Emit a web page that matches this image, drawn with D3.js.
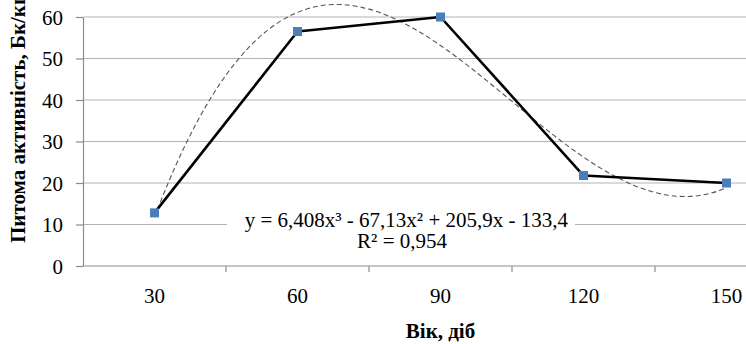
<!DOCTYPE html>
<html><head><meta charset="utf-8">
<script src="https://cdn.jsdelivr.net/npm/d3@7"></script>
<style>html,body{margin:0;padding:0;background:#fff;overflow:hidden}svg{display:block}
svg text{font-family:"Liberation Serif","Times New Roman",Times,serif !important;}</style>
</head><body>
<svg id="c" width="746" height="344"></svg>
<script>
const categories = ["30","60","90","120","150"];
const values = [12.8, 56.5, 60, 21.8, 20];
const yTicks = [0,10,20,30,40,50,60];
const trendCoef = [6.408, -67.13, 205.9, -133.4]; // x^3, x^2, x, const
const eqLine1 = "y = 6,408x³ - 67,13x² + 205,9x - 133,4";
const eqLine2 = "R² = 0,954";
const xTitle = "Вік, діб";
const yTitle = "Питома активність, Бк/кг";

const svg = d3.select("#c");
const fs = 21;
const pLeft = 83, pRight = 798, pTop = 17, pBottom = 266;
const x = d3.scaleBand().domain(categories).range([pLeft, pRight]);
const y = d3.scaleLinear().domain([0, 60]).range([pBottom, pTop]);
const xc = d => x(d) + x.bandwidth()/2;
const xi = i => pLeft + (i - 0.5) * x.bandwidth();

// gridlines
svg.append("g").selectAll("line").data(yTicks.filter(d=>d>0)).join("line")
  .attr("x1", pLeft).attr("x2", 746).attr("y1", d=>y(d)).attr("y2", d=>y(d))
  .attr("stroke", "#b3b3b3").attr("stroke-width", 1.2);

// y axis
const ya = svg.append("g").attr("transform", `translate(${pLeft},0)`)
  .call(d3.axisLeft(y).tickValues(yTicks).tickSize(7).tickSizeOuter(0));
ya.select(".domain").attr("stroke", "#8c8c8c").attr("stroke-width", 1.2);
ya.selectAll(".tick line").attr("stroke", "#8c8c8c").attr("stroke-width", 1.2);
ya.selectAll("text").attr("font-size", fs).attr("fill", "#000").attr("x", -20).attr("dy", "0.34em");

// x axis
const xa = svg.append("g").attr("transform", `translate(0,${pBottom})`)
  .call(d3.axisBottom(x).tickSize(0).tickSizeOuter(0));
xa.select(".domain").remove();
xa.append("line").attr("x1", pLeft).attr("x2", 746).attr("stroke", "#8c8c8c").attr("stroke-width", 1.2);
xa.selectAll(".tick text").attr("font-size", fs).attr("fill", "#000").attr("y", 37).attr("dy", 0);
svg.append("g").selectAll("line").data(categories.slice(1)).join("line")
  .attr("x1", d=>x(d)).attr("x2", d=>x(d)).attr("y1", pBottom).attr("y2", pBottom+6)
  .attr("stroke", "#8c8c8c").attr("stroke-width", 1.2);

// trendline
const poly = t => trendCoef[0]*t*t*t + trendCoef[1]*t*t + trendCoef[2]*t + trendCoef[3];
const ts = d3.range(1, 5.0001, 0.05);
svg.append("path").datum(ts)
  .attr("d", d3.line().x(t=>xi(t)).y(t=>y(poly(t))).curve(d3.curveBasis))
  .attr("fill", "none").attr("stroke", "#555").attr("stroke-width", 1.1).attr("stroke-dasharray", "5,3");

// data line
svg.append("path").datum(values)
  .attr("d", d3.line().x((d,i)=>xc(categories[i])).y(d=>y(d)))
  .attr("fill", "none").attr("stroke", "#000").attr("stroke-width", 2.6).attr("stroke-linejoin", "round");

svg.append("g").selectAll("rect").data(values).join("rect")
  .attr("x", (d,i)=>xc(categories[i])-4.5).attr("y", d=>y(d)-4.5)
  .attr("width", 9).attr("height", 9).attr("fill", "#4a7ebb");

// equation label
svg.append("rect").attr("x", 227).attr("y", 206).attr("width", 348).attr("height", 50).attr("fill", "#fff");
svg.append("text").attr("x", 568).attr("y", 227).attr("text-anchor", "end")
  .attr("font-size", fs).text(eqLine1);
svg.append("text").attr("x", 447).attr("y", 248).attr("text-anchor", "end")
  .attr("font-size", fs).text(eqLine2);

// titles
svg.append("text").attr("x", (pLeft+pRight)/2).attr("y", 338).attr("text-anchor", "middle")
  .attr("font-size", fs).attr("font-weight", "bold").text(xTitle);
svg.append("text").attr("transform", "translate(25,243) rotate(-90)").attr("text-anchor", "start")
  .attr("font-size", fs).attr("font-weight", "bold").text(yTitle);
</script>
</body></html>
